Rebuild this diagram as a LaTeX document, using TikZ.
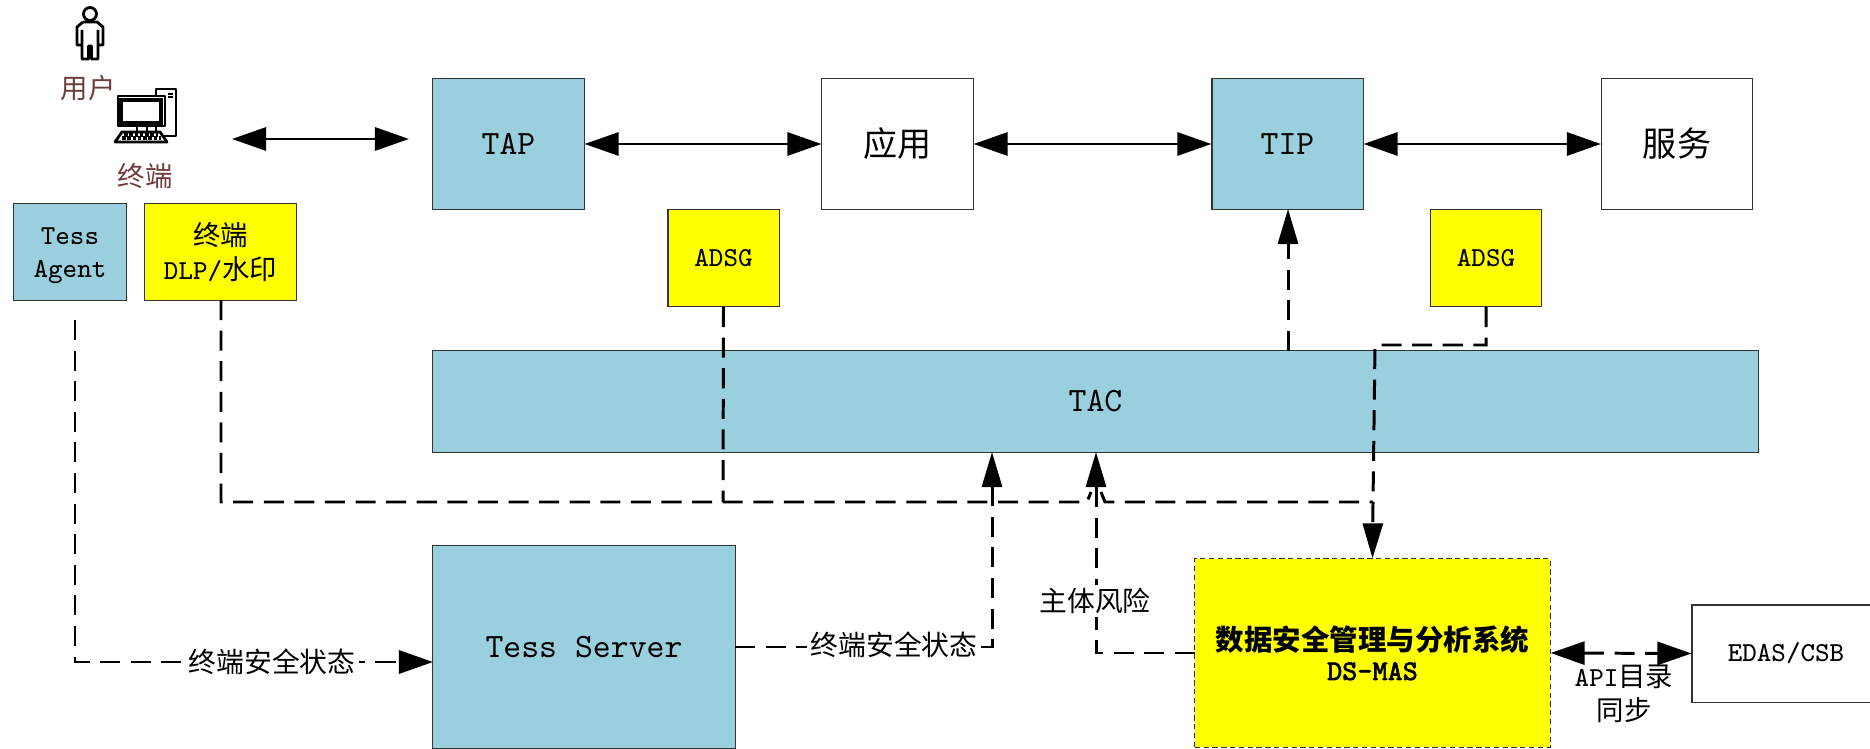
\documentclass[tikz,border=0pt]{standalone}
\usepackage{fontspec}
\usetikzlibrary{arrows.meta}
\newfontfamily\cjk{Noto Sans CJK SC}
\newfontfamily\ttbold{Latin Modern Mono}[FakeBold=2]
\newcommand{\fbig}{\fontsize{9.7}{11.5}\selectfont\ttfamily}
\newcommand{\fmid}{\fontsize{7.8}{9.5}\selectfont\ttfamily}
\definecolor{tacblue}{RGB}{154,208,222}
\definecolor{boxyellow}{RGB}{255,255,0}
\definecolor{brownlabel}{RGB}{110,60,60}
\tikzset{
  hbar/.tip={Triangle[length=0.34cm,width=0.23cm]},
  vbar/.tip={Triangle[length=0.35cm,width=0.2cm]},
  box/.style={shape=rectangle,draw=black!80,line width=0.3pt,align=center,inner sep=0pt},
  bluebox/.style={box,fill=tacblue},
  yellowbox/.style={box,fill=boxyellow},
  solidlink/.style={line width=0.85pt,hbar-hbar},
  dashlink/.style={line width=0.85pt,dash pattern=on 5.7pt off 3pt},
  linklabel/.style={fill=white,inner sep=1pt,font=\fontsize{7.9}{9.5}\selectfont\cjk},
  brownlabel/.style={text=brownlabel,font=\fmid\cjk},
  icon/.style={line width=0.8pt,line join=round}
}
\begin{document}
\begin{tikzpicture}[x=0.01cm,y=-0.01cm]
\useasboundingbox (0,0) rectangle (1870,749);

\node[bluebox,minimum width=1.51cm,minimum height=1.30cm,font=\fbig] (tap) at (508.5,144) {TAP};
\node[box,minimum width=1.51cm,minimum height=1.30cm,font=\fbig] (app) at (897.5,144) {{\cjk 应用}};
\node[bluebox,minimum width=1.51cm,minimum height=1.30cm,font=\fbig] (tip) at (1287.5,144) {TIP};
\node[box,minimum width=1.51cm,minimum height=1.30cm,font=\fbig] (svc) at (1677,144) {{\cjk 服务}};

\node[bluebox,minimum width=1.12cm,minimum height=0.97cm,font=\fmid] (agent) at (70,252) {\rule{0pt}{7pt}Tess\\Agent};
\node[yellowbox,minimum width=1.52cm,minimum height=0.97cm,font=\fmid] (dlp) at (220.5,252) {{\cjk 终端}\\DLP/{\cjk 水印}};
\node[yellowbox,minimum width=1.11cm,minimum height=0.97cm,font=\fmid] (adsga) at (723.5,258) {ADSG};
\node[yellowbox,minimum width=1.11cm,minimum height=0.97cm,font=\fmid] (adsgb) at (1486,258) {ADSG};

\node[bluebox,minimum width=13.25cm,minimum height=1.01cm,font=\fbig] (tac) at (1095.5,401.5) {TAC};
\node[bluebox,minimum width=3.02cm,minimum height=2.02cm,font=\fbig] (server) at (584,647) {Tess Server};
\node[yellowbox,dash pattern=on 1.5pt off 1pt,minimum width=3.55cm,minimum height=1.88cm,font=\fontsize{8.1}{9.4}\selectfont\bfseries] (dsmas) at (1372.5,653) {{\cjk 数据安全管理与分析系统}\\[-1pt]{\ttbold DS-MAS}};
\node[box,minimum width=1.88cm,minimum height=0.97cm,font=\fmid] (edas) at (1786,653.5) {EDAS/CSB};

\node[brownlabel] (user) at (88,88) {用户};
\node[brownlabel] (term) at (145,176) {终端};

% person
\draw[icon] (90,14) circle (6.5);
\draw[icon] (83,22) -- (97,22) -- (103,27) -- (103,45) -- (98,45) -- (98,30)
  (98,38) -- (98,59) -- (91.5,59) -- (91.5,46) -- (88.5,46) -- (88.5,59) -- (82,59) -- (82,30)
  (82,45) -- (77,45) -- (77,27) -- (83,22);
% computer
\draw[icon,fill=white] (156,89) rectangle (176,136);
\draw[line width=0.45pt] (168,94) -- (173,94) (168,97) -- (173,97);
\draw[icon,fill=white] (118,96) rectangle (165,126);
\draw[line width=1.1pt] (121,100) rectangle (161,123);
\draw[icon] (137,127) -- (137,132) (147,127) -- (147,132);
\draw[icon,fill=white] (122,132) -- (160,132) -- (167,142) -- (115,142) -- cycle;
\draw[line width=0.9pt,dash pattern=on 1pt off 0.5pt] (124,135) -- (158,135) (122,138) -- (161,138);

% free ends
\coordinate (termleft) at (232,139);
\coordinate (termright) at (409,139);
\coordinate (agentout) at (75,320);
\coordinate (serverin) at (433,662);
\coordinate (dlpcorner) at (221,502);
\coordinate (dlpout) at (221,300);
\coordinate (adsgajoin) at (723,502);
\coordinate (joincorner) at (1373,502);
\coordinate (adsgbbend) at (1486,345);
\coordinate (adsgbcorner) at (1375,345);
\coordinate (tipfoot) at (1288,351);
\coordinate (tipin) at (1288,209);
\coordinate (serverout) at (735,647);
\coordinate (tacina) at (992,452);
\coordinate (tacinb) at (1096,452);
\coordinate (dsmasout) at (1195,653);

\draw[solidlink] (termleft) to (termright);
\draw[solidlink] (tap.east) to (app.west);
\draw[solidlink] (app.east) to (tip.west);
\draw[solidlink] (tip.east) to (svc.west);

\draw[dashlink,-hbar] (agentout) |- (serverin);
\draw[dashlink] (dlpout) -- (dlpcorner) -- (1087,502) -- (1091,492) (1101,492) -- (1105,502) -- (joincorner);
\draw[dashlink,-vbar] (joincorner) -- (dsmas.north);
\draw[dashlink] (adsga.south) -- (adsgajoin);
\draw[dashlink] (adsgb.south) -- (adsgbbend) -- (adsgbcorner) -- (joincorner);
\draw[dashlink,-vbar] (tipfoot) -- (tipin);
\draw[dashlink,-vbar] (serverout) -| (tacina);
\draw[dashlink,-vbar] (dsmasout) -| (tacinb);
\draw[dashlink,hbar-hbar] (dsmas.east) to (edas.west);

\node[linklabel] (statea) at (272,662) {终端安全状态};
\node[linklabel] (stateb) at (894,645) {终端安全状态};
\node[linklabel] (risk) at (1095,601) {主体风险};
\node[font=\fmid,align=center,inner sep=0pt] (apilabel) at (1624,694) {API{\cjk 目录}\\{\cjk 同步}};
\end{tikzpicture}
\end{document}
